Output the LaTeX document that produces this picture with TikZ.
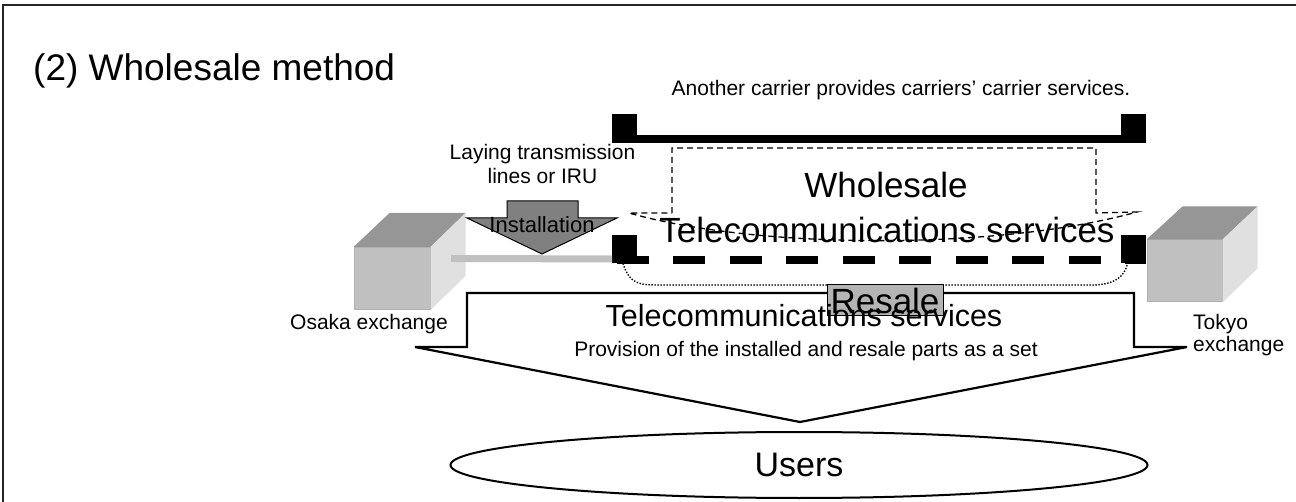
\documentclass[tikz,border=0pt]{standalone}
\usepackage{fontspec}
\setmainfont{Liberation Sans}
\usetikzlibrary{shapes.geometric}
\definecolor{cubetop}{RGB}{150,150,150}
\definecolor{cubefront}{RGB}{192,192,192}
\definecolor{cubeside}{RGB}{224,224,224}
\definecolor{cubeedge}{RGB}{176,176,176}
\definecolor{arrowgray}{RGB}{128,128,128}
\definecolor{resalegray}{RGB}{180,180,180}
\begin{document}
\begin{tikzpicture}[x=1pt,y=-1pt,
  lbl/.style={inner sep=0pt,anchor=base},
  small/.style={lbl,font=\fontsize{21}{24}\selectfont},
  big/.style={lbl,font=\fontsize{35}{40}\selectfont},
  sqbox/.style={fill=black,draw=none,inner sep=0pt,minimum width=24.5pt,minimum height=28.5pt},
  cubefrontstyle/.style={fill=cubefront,draw=cubeedge,line width=1pt,inner sep=0pt,minimum width=76pt,minimum height=62pt},
  thickline/.style={line width=7.5pt},
  calloutline/.style={dashed,line width=1.3pt,dash pattern=on 6pt off 4pt},
  dotline/.style={line width=1.4pt,dash pattern=on 1.4pt off 1.6pt},
  outline/.style={draw=black,line width=2.2pt,line join=miter}
]
\useasboundingbox (0,0) rectangle (1296,502);
% frame
\draw[line width=2pt,black!85] (3,502) -- (3,5) -- (1296,5);

% title
\node[lbl,anchor=base west,font=\fontsize{37}{42}\selectfont] (title) at (33,81) {(2) Wholesale method};

% Osaka cube
\node[cubefrontstyle] (osaka) at (392,278.5) {};
\fill[cubetop] (osaka.north west) -- (osaka.north east) -- ++(35,-34) -- ++(-76,0) -- cycle;
\fill[cubeside] (osaka.north east) -- ++(35,-34) -- ++(0,63) -- (osaka.south east) -- cycle;
\node[small,anchor=base west] (osakalbl) at (290,330) {Osaka exchange};

% Tokyo cube
\node[cubefrontstyle,minimum width=75pt] (tokyo) at (1184.5,271) {};
\fill[cubetop] (tokyo.north west) -- (tokyo.north east) -- ++(35,-33) -- ++(-75,0) -- cycle;
\fill[cubeside] (tokyo.north east) -- ++(35,-33) -- ++(0,62) -- (tokyo.south east) -- cycle;
\node[small,anchor=base west] (tokyo1) at (1193,330) {Tokyo};
\node[small,anchor=base west] (tokyo2) at (1193,352) {exchange};

% carriers' carrier line
\node[sqbox] (tl) at (624.5,128.5) {};
\node[sqbox] (tr) at (1133.5,128.5) {};
\draw[thickline] ([yshift=3.75pt]tl.south east) -- ([yshift=3.75pt]tr.south west);
\node[small] (another) at (901,96) {Another carrier provides carriers’ carrier services.};

% wholesale callout (dashed)
\draw[calloutline] (672,213) -- (672,148) -- (1096,148) -- (1096,213) -- (1137,212)
  .. controls (1000,250) and (760,250) .. (629,213) -- cycle;
\node[big] (wh1) at (886,198) {Wholesale};
\node[big] (wh2) at (887,243) {Telecommunications services};

% lower line squares
\node[sqbox] (bl) at (624.5,249) {};
\node[sqbox] (br) at (1133.5,249) {};

% installed grey line
\coordinate (gl) at (451,258.5);
\draw[line width=7pt,cubefront] (gl) -- ([yshift=4.5pt]bl.south west);

% thick dashed resale line
\draw[thickline,dash pattern=on 32pt off 24.5pt,dash phase=52pt]
  ([yshift=3.5pt]bl.south west) -- ([yshift=3.5pt]br.south east);

% dotted bracket
\draw[dotline] ([xshift=-1.5pt]bl.south) .. controls (630,285) and (640,285) .. (660,285)
  -- (1092,285) .. controls (1115,285) and (1125,276) .. ([xshift=-6pt]br.south);

% installation arrow
\draw[fill=arrowgray,draw=black,line width=1pt,line join=miter]
  (507,201) -- (578,201) -- (578,218) -- (617,218) -- (542,254) -- (467,218) -- (507,218) -- cycle;
\node[lbl,font=\fontsize{22}{26}\selectfont] (install) at (542,233) {Installation};
\node[small] (lay1) at (542.5,160) {Laying transmission};
\node[small] (lay2) at (542.5,184) {lines or IRU};

% big provision arrow
\draw[outline,fill=white] (467,293) -- (1134,293) -- (1134,347) -- (1187,347) -- (800,422)
  -- (415,347) -- (467,347) -- cycle;
\node[fill=resalegray,draw=black,line width=1pt,inner sep=0pt,minimum width=116pt,minimum height=31pt] (resalebox) at (885,300.5) {};
\node[lbl,font=\fontsize{30.5}{34}\selectfont] (tel2) at (804,327) {Telecommunications services};
\node[lbl,font=\fontsize{35}{40}\selectfont] (resale) at (885,314) {Resale};
\node[small] (prov) at (806,357) {Provision of the installed and resale parts as a set};

% users
\node[ellipse,draw=black,line width=2pt,inner sep=0pt,minimum width=697pt,minimum height=66pt,
  font=\fontsize{34}{38}\selectfont] (users) at (799,465) {Users};
\end{tikzpicture}
\end{document}
